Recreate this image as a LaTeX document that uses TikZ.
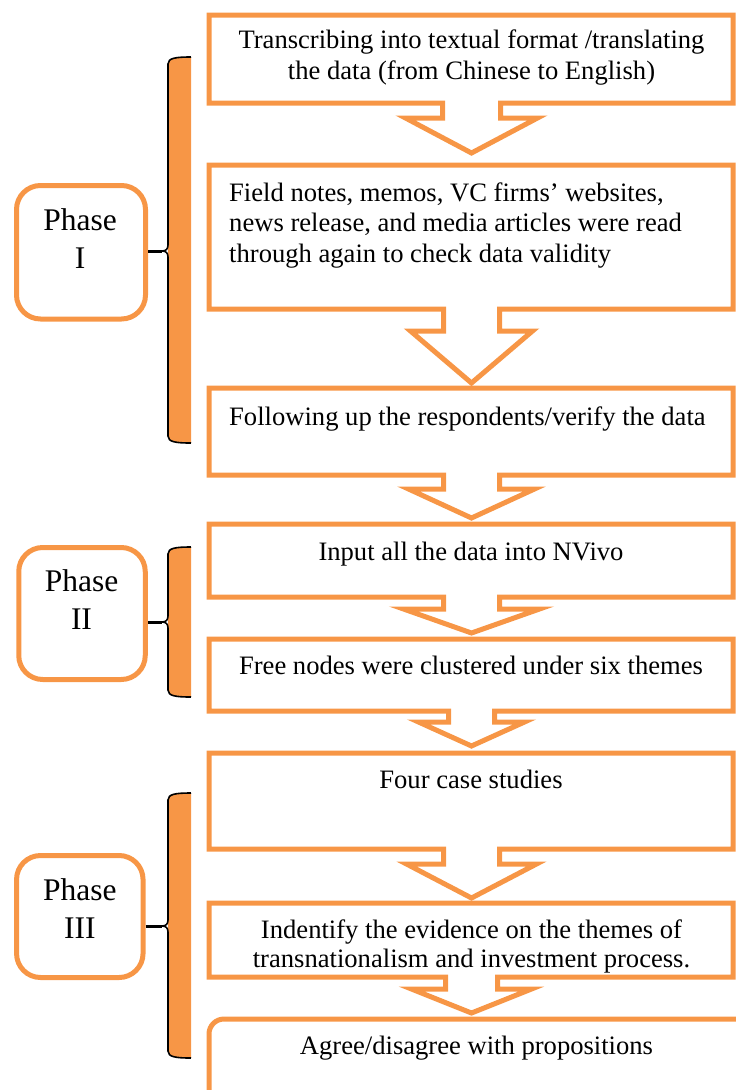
\documentclass[tikz,border=0pt]{standalone}
\usepackage{fontspec}
\setmainfont{Liberation Serif}
\definecolor{accent}{HTML}{F79646}

% Box with a hollow down-arrow below it: top, bottom, shaft half-width,
% head top, head half-width, tip
\newcommand\arrowbox[6]{%
  \draw[flow] (209,#1) -- (733,#1) -- (733,#2) -- ({471.5+#3},#2)
    -- ({471.5+#3},#4) -- ({471.5+#5},#4) -- (471.5,#6) -- ({471.5-#5},#4)
    -- ({471.5-#3},#4) -- ({471.5-#3},#2) -- (209,#2) -- cycle;}

% Orange bar with a black left brace: top, bottom, tip y, tip coordinate
\newcommand\phasebrace[4]{%
  \fill[accent] (191,#1) .. controls (176,#1) and (168,{#1+1}) .. (168,{#1+7})
    -- (168,{#2-7}) .. controls (168,{#2-1}) and (176,#2) .. (191,#2) -- cycle;
  \draw[bracepen] (191,#1) .. controls (176,#1) and (168,{#1+1}) .. (168,{#1+7})
    -- (168,{#3-6}) .. controls (168,{#3-2}) and (166,#3) .. (162,#3) coordinate (#4)
    .. controls (166,#3) and (168,{#3+2}) .. (168,{#3+6})
    -- (168,{#2-7}) .. controls (168,{#2-1}) and (176,#2) .. (191,#2);}

\begin{document}
\begin{tikzpicture}[x=1pt,y=-1pt,
  flow/.style={draw=accent, line width=5pt, line join=miter, miter limit=6},
  body/.style={font=\fontsize{26.6}{30.3}\selectfont, inner sep=0pt, text=black},
  phasebox/.style={draw=accent, line width=5pt, rounded corners=24pt, inner sep=0pt},
  phasetext/.style={font=\fontsize{31.5}{38}\selectfont, inner sep=0pt, align=center},
  bracepen/.style={draw=black, line width=1.6pt},
  tick/.style={draw=black, line width=3pt}]
\useasboundingbox (0,0) rectangle (736,1090);
\begin{scope}
\clip (0,0) rectangle (736,1090);

% process boxes
\arrowbox{15}{103}{29}{118}{66}{153}
\arrowbox{165}{309}{28}{331}{61}{383}
\arrowbox{388}{475}{28}{489}{63}{518}
\arrowbox{524}{597}{28}{609}{68}{633}
\arrowbox{639}{711}{23}{722}{53}{746}
\arrowbox{753}{849}{28}{864}{65}{898}
\arrowbox{903}{977}{26}{989}{60}{1013}
\draw[flow, rounded corners=15pt] (209,1110) -- (209,1019) -- (760,1019);

% texts (a multi-line node sits on the baseline of its last line)
\node[body, align=center, anchor=base] (t1) at (471.5,79)
  {Transcribing into textual format /translating\\the data (from Chinese to English)};
\node[body, align=left, anchor=base west] (t2) at (229,262)
  {Field notes, memos, VC firms’ websites,\\news release, and media articles were read\\through again to check data validity};
\node[body, anchor=base west] (t3) at (229,425) {Following up the respondents/verify the data};
\node[body, anchor=base] (t4) at (471,560.7) {Input all the data into NVivo};
\node[body, anchor=base] (t5) at (471,674) {Free nodes were clustered under six themes};
\node[body, anchor=base] (t6) at (471,788) {Four case studies};
\node[body, align=center, anchor=base, font=\fontsize{26.6}{29}\selectfont] (t7) at (471.5,967)
  {Indentify the evidence on the themes of\\transnationalism and investment process.};
\node[body, anchor=base] (t8) at (476.5,1054) {Agree/disagree with propositions};

% phases
\node[phasebox, minimum width=129pt, minimum height=133.5pt] (ph1) at (81,252.25) {};
\node[phasetext, anchor=base] (ph1t) at (80,268) {Phase\\I};
\node[phasebox, minimum width=126.5pt, minimum height=132pt] (ph2) at (82,613.5) {};
\node[phasetext, anchor=base] (ph2t) at (81.5,629.5) {Phase\\II};
\node[phasebox, minimum width=126.5pt, minimum height=122pt] (ph3) at (79.8,916.5) {};
\node[phasetext, anchor=base] (ph3t) at (79.8,938) {Phase\\III};

\phasebrace{57}{443}{251}{b1}
\phasebrace{547}{697}{622}{b2}
\phasebrace{793}{1058}{926}{b3}
\draw[tick] (ph1.east |- b1) -- (b1);
\draw[tick] (ph2.east |- b2) -- (b2);
\draw[tick] (ph3.east |- b3) -- (b3);
\end{scope}
\end{tikzpicture}
\end{document}
